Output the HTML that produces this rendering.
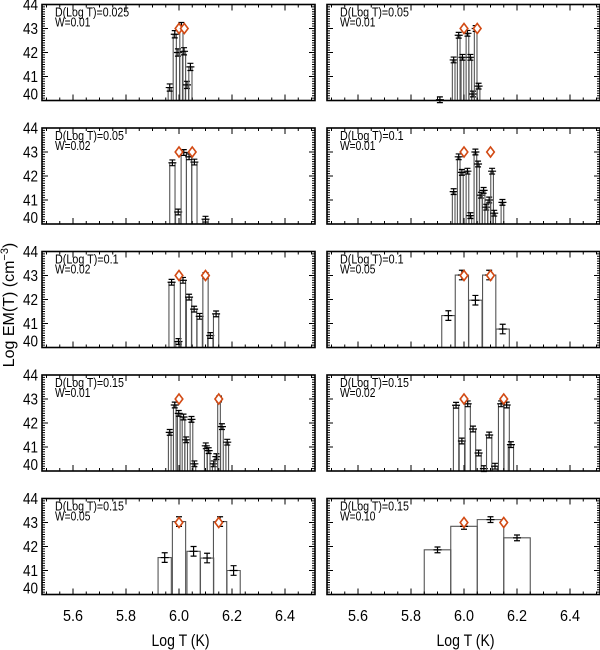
<!DOCTYPE html>
<html><head><meta charset="utf-8"><style>
html,body{margin:0;padding:0;background:#fff;}
svg{display:block;font-family:"Liberation Sans Narrow","Liberation Sans",sans-serif;}
</style></head><body>
<svg id="chart" width="600" height="650" viewBox="0 0 600 650"></svg>
<script>
// ---- data ----
const panelD = ["0.025","0.05","0.05","0.1","0.1","0.1","0.15","0.15","0.15","0.15"];
const panelW = ["0.01","0.01","0.02","0.01","0.02","0.05","0.01","0.02","0.05","0.10"];
const binWidths = [0.012,0.01,0.02,0.01,0.02,0.05,0.01,0.02,0.05,0.10];
const binCenters = [
 [5.965,5.984,5.996,6.009,6.019,6.030,6.043],
 [5.909,5.961,5.980,5.994,6.013,6.024,6.034,6.044,6.055],
 [5.975,5.997,6.018,6.038,6.058,6.100],
 [5.961,5.980,5.992,6.013,6.024,6.043,6.053,6.064,6.074,6.084,6.095,6.106,6.114,6.145],
 [5.972,5.998,6.015,6.038,6.057,6.078,6.100,6.118,6.140],
 [5.941,5.992,6.043,6.095,6.146],
 [5.965,5.984,5.999,6.017,6.027,6.047,6.058,6.101,6.112,6.131,6.141,6.151,6.162,6.182],
 [5.970,5.992,6.014,6.034,6.055,6.075,6.095,6.117,6.140,6.161,6.177],
 [5.946,6.000,6.055,6.106,6.155,6.206],
 [5.900,6.000,6.100,6.200]
];
const binValues = [
 [40.54,42.76,42.0,43.1,42.05,40.65,41.4],
 [40.03,41.69,42.72,41.8,42.8,41.8,40.27,43.0,40.6],
 [42.55,40.5,42.98,42.8,42.58,40.2],
 [41.35,42.8,42.15,42.2,40.35,43.0,42.5,41.2,41.4,40.7,41.0,42.2,40.45,40.9],
 [42.72,40.25,42.8,42.1,41.6,41.3,43.0,40.5,41.4],
 [41.33,43.02,41.97,43.02,40.77],
 [41.61,42.75,42.4,42.25,41.3,42.15,40.3,41.05,40.85,40.3,40.6,43.0,41.85,41.2],
 [42.74,41.25,42.8,41.75,40.75,40.1,41.5,40.2,42.8,42.75,41.1],
 [41.54,43.04,41.8,41.52,43.04,41.0],
 [41.86,42.84,43.12,42.36]
];
const binErrors = [0.15,0.12,0.12,0.12,0.12,0.2,0.12,0.12,0.2,0.12];
const diamondT = [[6.0,6.02],[6.0,6.05],[6.0,6.05],[6.0,6.1],[6.0,6.1],[6.0,6.1],[6.0,6.15],[6.0,6.15],[6.0,6.15],[6.0,6.15]];
const diamondEM = [[43.0,43.0],[43.0,43.0],[43.0,43.0],[43.0,43.0],[43.0,43.0],[43.0,43.0],[43.0,43.0],[43.0,43.0],[43.0,43.0],[43.0,43.0]];
const xTicks = [5.6,5.8,6.0,6.2,6.4];
const xTickLabels = ["5.6","5.8","6.0","6.2","6.4"];
const yTicks = [40,41,42,43,44];
const yTickLabels = ["40","41","42","43","44"];

// ---- layout ----
const NS="http://www.w3.org/2000/svg";
const svg=document.getElementById("chart");
const colX=[42,327], rowY=[4.5,128,251.5,375,498.5];
const PW=273, PH=96, XMIN=5.483, XSCALE=265, YMIN=40, YMAX=44;
function mk(tag,attrs,parent){const e=document.createElementNS(NS,tag);for(const k in attrs)e.setAttribute(k,attrs[k]);(parent||svg).appendChild(e);return e;}

for(let p=0;p<10;p++){
  const col=p%2,row=Math.floor(p/2);
  const x0=colX[col],y0=rowY[row];
  const sx=v=>x0+(v-XMIN)*XSCALE;
  const sy=v=>y0+PH-(v-YMIN)/(YMAX-YMIN)*PH;
  const g=mk("g",{});
  
  
  const bg=mk("g",{},g);
  
  
  const w=binWidths[p];
  binCenters[p].forEach((c,i)=>{
    const v=binValues[p][i];
    const xl=sx(c-w/2),xr=sx(c+w/2),yt=sy(v),yb=sy(YMIN);
    const r=mk("path",{d:`M${xl},${yb}V${yt}H${xr}V${yb}`,fill:"none",stroke:"#555","stroke-width":1.1},bg);
    
    
    const e=binErrors[p];
    const xc=sx(c),cap=3;
    const eb=mk("path",{d:`M${xc},${sy(v+e)}V${sy(v-e)}M${xc-cap},${sy(v+e)}H${xc+cap}M${xc-cap},${sy(v-e)}H${xc+cap}M${xc-4},${yt}H${xc+4}`,fill:"none",stroke:"#000","stroke-width":1.2},bg);
    
    
  });
  diamondT[p].forEach((t,i)=>{
    const cx=sx(t),cy=sy(diamondEM[p][i]);
    const d=mk("path",{d:`M${cx},${cy-5}L${cx+3.8},${cy}L${cx},${cy+5}L${cx-3.8},${cy}Z`,fill:"#fff",stroke:"#d24a14","stroke-width":1.6},g);
    
    
  });
  let td="";
  for(let k=0;k<=40;k++){const v=40+k*0.1;const y=sy(v);const L=(k%10===0)?6:3;td+=`M${x0},${y}h${L}M${x0+PW},${y}h${-L}`;}
  for(let v=5.5;v<=6.5001;v+=0.05){const x=sx(v);const maj=Math.abs(v*5-Math.round(v*5))<1e-6;const L=maj?6:3;td+=`M${x},${y0+PH}v${-L}M${x},${y0}v${L}`;}
  const tk=mk("path",{d:td,stroke:"#000","stroke-width":1,fill:"none"},g);
  
  
  const box=mk("rect",{x:x0,y:y0,width:PW,height:PH,fill:"none",stroke:"#000","stroke-width":1.6},g);
  
  
  const s1="D(Log T)="+panelD[p], s2="W="+panelW[p];
  const t1=mk("text",{x:x0+13,y:y0+12,"font-size":13,textLength:s1.length*5.3,lengthAdjust:"spacingAndGlyphs"},g);t1.textContent=s1;
  
  
  const t2=mk("text",{x:x0+13,y:y0+22,"font-size":13,textLength:s2.length*5.9,lengthAdjust:"spacingAndGlyphs"},g);t2.textContent=s2;
  
  
  if(col===0){
    yTicks.forEach((v,i)=>{
      let by=sy(v)+5.5; if(v===40) by=y0+PH-1;
      const t=mk("text",{x:x0-4,y:by,"font-size":16,"text-anchor":"end",textLength:15,lengthAdjust:"spacingAndGlyphs"},g);t.textContent=yTickLabels[i];
      
      
    });
  }
  if(row===4){
    xTicks.forEach((v,i)=>{
      const t=mk("text",{x:sx(v),y:621,"font-size":16,"text-anchor":"middle",textLength:20,lengthAdjust:"spacingAndGlyphs"},g);t.textContent=xTickLabels[i];
      
      
    });
    const xt=mk("text",{x:x0+PW/2+2,y:646,"font-size":17,"text-anchor":"middle",textLength:58,lengthAdjust:"spacingAndGlyphs"},g);xt.textContent="Log T (K)";
    
    
  }
}
const yt=mk("text",{x:0,y:0,"font-size":16,"text-anchor":"middle",transform:"translate(14,305) rotate(-90)"});
yt.innerHTML='Log  EM(T)  (cm<tspan dy="-6" font-size="11">−3</tspan><tspan dy="6">)</tspan>';


</script>
</body></html>
